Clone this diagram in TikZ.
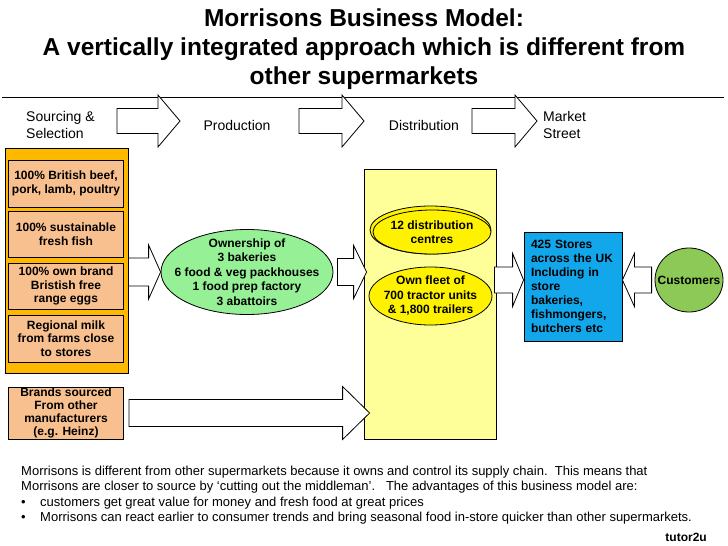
\documentclass[tikz,border=0pt]{standalone}
\usepackage{fontspec}
\setmainfont{Liberation Sans}
\usetikzlibrary{shapes.geometric, calc}
\definecolor{amber}{HTML}{FFB800}
\definecolor{peach}{HTML}{F9C08F}
\definecolor{mint}{HTML}{96F096}
\definecolor{paleyellow}{HTML}{FFFF99}
\definecolor{sky}{HTML}{12A6EA}
\definecolor{leaf}{HTML}{8DC956}
\tikzset{
    box/.style={draw, line width=.8pt, inner sep=0pt, align=center, font=\bfseries\fontsize{12}{13.5}\selectfont},
    peach box/.style={box, fill=peach, minimum width=115pt, minimum height=46pt},
    oval/.style={box, ellipse, inner sep=-15pt, font=\bfseries\fontsize{12}{14.5}\selectfont},
    fat/.style={draw, line width=.8pt, fill=white, line join=miter},
    stage/.style={inner sep=0pt, align=left, font=\fontsize{14}{17}\selectfont}
}
% from, to, half body, half head, head length
\newcommand{\fatarrow}[5]{
    \path[fat] let \p1=(#1), \p2=(#2), \n1={\x2-(#5)} in (\x1, \y1+#3)--(\n1, \y1+#3)--(\n1, \y1+#4)--(\x2, \y1)
        --(\n1, \y1-#4)--(\n1, \y1-#3)--(\x1, \y1-#3)--cycle
}

\begin{document}
\begin{tikzpicture}[x=1pt, y=-1pt]
    \useasboundingbox[fill=white] (0, 0) rectangle (728, 546);
    \node[align=center, font=\bfseries\fontsize{24.5}{29}\selectfont] (title) at (364, 49.5)
        {Morrisons Business Model:\\A vertically integrated approach which is different from\\other supermarkets};
    \draw[line width=.8pt] (2, 97)--(724, 97);

    \node[stage, anchor=west] (src) at (26, 125) {Sourcing \&\\Selection};
    \node[stage] (prod) at (237, 125) {Production};
    \node[stage] (distr) at (424, 125) {Distribution};
    \node[stage, anchor=west] (mkt) at (543, 125) {Market\\Street};
    \coordinate (h1a) at (117, 121); \coordinate (h1b) at (180, 121);
    \coordinate (h2a) at (299, 121); \coordinate (h2b) at (364, 121);
    \coordinate (h3a) at (472, 121); \coordinate (h3b) at (537, 121);
    \foreach \i in {1, 2, 3}
        \fatarrow{h\i a}{h\i b}{12.5pt}{26pt}{22pt};

    \node[draw, fill=amber, line width=.8pt, inner sep=0pt, minimum width=123pt, minimum height=225pt] (supply) at (66.5, 260.5) {};
    \node[peach box, minimum height=47pt] (beef) at (66, 183.5) {100\% British beef,\\pork, lamb, poultry};
    \node[peach box] (fish) at (66, 234) {100\% sustainable\\fresh fish};
    \node[peach box] (eggs) at (66, 286) {100\% own brand\\Bristish free\\range eggs};
    \node[peach box, minimum height=47pt] (milk) at (66, 338.5) {Regional milk\\from farms close\\to stores};
    \node[peach box, minimum height=52pt, font=\bfseries\fontsize{12}{13}\selectfont] (brands) at (66, 413)
        {Brands sourced\\From other\\manufacturers\\(e.g. Heinz)};

    \node[oval, fill=mint, minimum width=172pt, minimum height=85pt] (own) at (247, 272)
        {Ownership of\\3 bakeries\\6 food \& veg packhouses\\1 food prep factory\\3 abattoirs};

    \node[draw, fill=paleyellow, line width=.8pt, minimum width=132pt, minimum height=270pt] (logistics) at (430, 304) {};
    \node[oval, fill=yellow, minimum width=121pt, minimum height=48pt] (centres back) at (430.5, 230) {};
    \node[oval, fill=yellow, minimum width=118pt, minimum height=44pt] (centres) at (432, 232) {12 distribution\\centres};
    \node[oval, fill=yellow, minimum width=123pt, minimum height=58pt] (fleet) at (430.5, 296) {Own fleet of\\700 tractor units\\\& 1,800 trailers};

    \node[box, fill=sky, minimum width=98pt, minimum height=109pt, text width=84pt, align=left,
        font=\bfseries\fontsize{12}{14}\selectfont] (stores) at (573, 286.5)
        {425 Stores\\across the UK\\Including in\\store\\bakeries,\\fishmongers,\\butchers etc};
    \node[oval, fill=leaf, minimum width=68pt, minimum height=64pt] (cust) at (689, 280) {Customers};

    \fatarrow{supply.east |- own.west}{own.west}{14pt}{27pt}{12pt};
    \fatarrow{$(own.east)+(4, 0)$}{$(logistics.west |- own.east)+(3, 0)$}{13.5pt}{26.5pt}{13pt};
    \fatarrow{$(logistics.east |- cust.west)+(-2, 0)$}{stores.west |- cust.west}{13pt}{26.5pt}{11pt};
    \fatarrow{$(cust.west)+(-3, 0)$}{stores.east |- cust.west}{13pt}{26.5pt}{-12pt};
    \fatarrow{$(brands.east)+(5, 0)$}{$(logistics.west |- brands.east)+(6, 0)$}{13.5pt}{26.5pt}{27pt};

    \node[anchor=north west, align=left, inner sep=0pt, font=\fontsize{13}{15.5}\selectfont] (note) at (21, 465.5)
        {Morrisons is different from other supermarkets because it owns and control its supply chain.\ \ This means that\\
        Morrisons are closer to source by `cutting out the middleman'.\ \ \ The advantages of this business model are:\\
        \makebox[19pt][l]{\textbullet}customers get great value for money and fresh food at great prices\\
        \makebox[19pt][l]{\textbullet}Morrisons can react earlier to consumer trends and bring seasonal food in-store quicker than other supermarkets.};
    \node[anchor=east, inner sep=0pt, font=\bfseries\fontsize{12}{14}\selectfont] (brand) at (707, 537) {tutor2u};
\end{tikzpicture}
\end{document}
